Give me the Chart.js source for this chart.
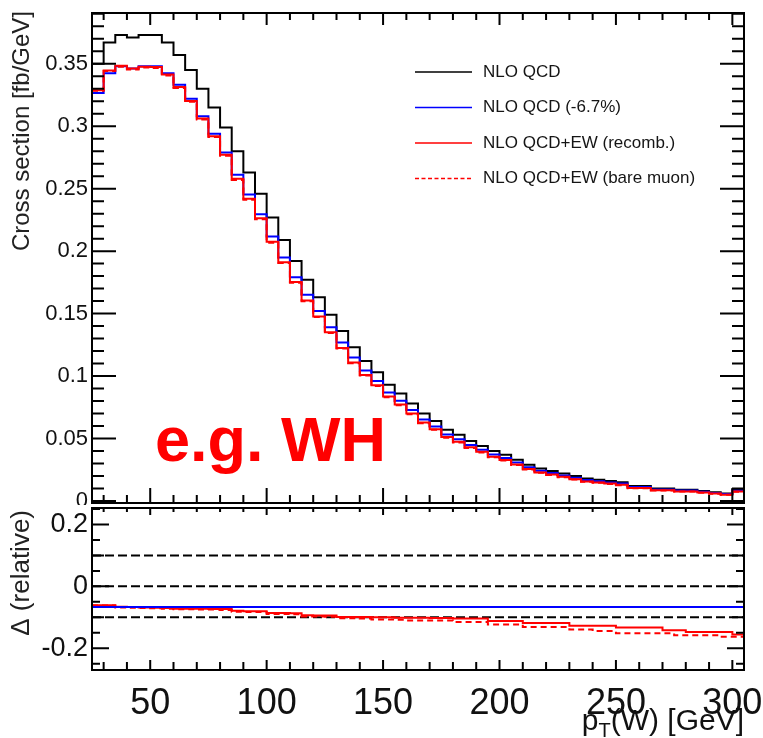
<!DOCTYPE html>
<html>
<head>
<meta charset="utf-8">
<script src="https://cdn.jsdelivr.net/npm/chart.js@4.4.0/dist/chart.umd.min.js"></script>
<style>
body { margin: 0; background: #fff; }
#wrap { position: relative; width: 763px; height: 738px; }
canvas { position: absolute; left: 0; }
#topChart { top: 0; }
#ratioChart { top: 505px; }
</style>
</head>
<body>
<div id="wrap">
<canvas id="topChart" width="763" height="505"></canvas>
<canvas id="ratioChart" width="763" height="233"></canvas>
</div>
<script>
// pT(W) bin edges [GeV], 5 GeV bins
var binEdges = [25, 30, 35, 40, 45, 50, 55, 60, 65, 70, 75, 80, 85, 90, 95, 100, 105, 110, 115, 120,
  125, 130, 135, 140, 145, 150, 155, 160, 165, 170, 175, 180, 185, 190, 195, 200, 205, 210, 215, 220,
  225, 230, 235, 240, 245, 250, 255, 260, 265, 270, 275, 280, 285, 290, 295, 300, 305];

// cross section per bin [fb/GeV]
var nloQCD = [0.350, 0.367, 0.373, 0.371, 0.373, 0.373, 0.367, 0.357, 0.345, 0.330, 0.315, 0.299, 0.280, 0.263,
  0.246, 0.227, 0.209, 0.192, 0.177, 0.163, 0.149, 0.136, 0.123, 0.112, 0.103, 0.093, 0.086, 0.078,
  0.070, 0.064, 0.057, 0.053, 0.048, 0.044, 0.040, 0.037, 0.033, 0.029, 0.026, 0.024, 0.022, 0.020,
  0.018, 0.017, 0.016, 0.015, 0.012, 0.012, 0.010, 0.010, 0.009, 0.009, 0.008, 0.007, 0.006, 0.009];

var nloQCDScaled = [0.3266, 0.3424, 0.3480, 0.3461, 0.3480, 0.3480, 0.3424, 0.3331, 0.3219, 0.3079, 0.2939, 0.2790,
  0.2612, 0.2454, 0.2295, 0.2118, 0.1950, 0.1791, 0.1651, 0.1521, 0.1390, 0.1269, 0.1148, 0.1045, 0.0961,
  0.0868, 0.0802, 0.0728, 0.0653, 0.0597, 0.0532, 0.0494, 0.0448, 0.0411, 0.0373, 0.0345, 0.0308, 0.0271,
  0.0243, 0.0224, 0.0205, 0.0187, 0.0168, 0.0159, 0.0149, 0.0140, 0.0112, 0.0112, 0.0093, 0.0093, 0.0084,
  0.0084, 0.0075, 0.0065, 0.0056, 0.0084];

var nloEWRecomb = [0.3287, 0.3446, 0.3484, 0.3461, 0.3476, 0.3473, 0.3413, 0.3313, 0.3202, 0.3062, 0.2920, 0.2772,
  0.2579, 0.2420, 0.2263, 0.2075, 0.1910, 0.1753, 0.1605, 0.1477, 0.1350, 0.1225, 0.1108, 0.1009, 0.0927,
  0.0837, 0.0773, 0.0701, 0.0629, 0.0575, 0.0512, 0.0475, 0.0430, 0.0394, 0.0355, 0.0329, 0.0293, 0.0256,
  0.0229, 0.0212, 0.0194, 0.0175, 0.0157, 0.0148, 0.0140, 0.0130, 0.0104, 0.0104, 0.0087, 0.0086, 0.0077,
  0.0077, 0.0068, 0.0060, 0.0051, 0.0076];

var nloEWBare = [0.3283, 0.3442, 0.3476, 0.3454, 0.3469, 0.3465, 0.3406, 0.3306, 0.3195, 0.3053, 0.2914, 0.2763,
  0.2570, 0.2412, 0.2256, 0.2068, 0.1904, 0.1747, 0.1598, 0.1472, 0.1344, 0.1220, 0.1103, 0.1004, 0.0920,
  0.0830, 0.0767, 0.0694, 0.0623, 0.0570, 0.0507, 0.0469, 0.0425, 0.0389, 0.0351, 0.0324, 0.0289, 0.0252,
  0.0226, 0.0209, 0.0191, 0.0172, 0.0155, 0.0146, 0.0137, 0.0127, 0.0102, 0.0102, 0.0085, 0.0085, 0.0076,
  0.0076, 0.0067, 0.0059, 0.0050, 0.0075];

// relative difference to NLO QCD
var deltaRecomb = [-0.061, -0.061, -0.066, -0.067, -0.068, -0.069, -0.070, -0.072, -0.072, -0.072, -0.073, -0.073,
  -0.079, -0.080, -0.080, -0.086, -0.086, -0.087, -0.093, -0.094, -0.094, -0.099, -0.099, -0.099, -0.100,
  -0.100, -0.101, -0.101, -0.101, -0.102, -0.102, -0.104, -0.104, -0.104, -0.112, -0.112, -0.112, -0.118,
  -0.118, -0.118, -0.118, -0.127, -0.127, -0.127, -0.127, -0.133, -0.133, -0.133, -0.133, -0.142, -0.142,
  -0.147, -0.147, -0.147, -0.147, -0.155];

var deltaBare = [-0.062, -0.062, -0.068, -0.069, -0.070, -0.071, -0.072, -0.074, -0.074, -0.075, -0.075, -0.076,
  -0.082, -0.083, -0.083, -0.089, -0.089, -0.090, -0.097, -0.097, -0.098, -0.103, -0.103, -0.104, -0.107,
  -0.107, -0.108, -0.110, -0.110, -0.110, -0.110, -0.115, -0.115, -0.115, -0.123, -0.123, -0.123, -0.131,
  -0.131, -0.131, -0.131, -0.139, -0.139, -0.144, -0.144, -0.151, -0.151, -0.151, -0.151, -0.151, -0.158,
  -0.158, -0.158, -0.158, -0.163, -0.163];

var deltaScaled = -0.067;
var ratioGuides = [0.1, 0, -0.1];

var xTickLabels = [50, 100, 150, 200, 250, 300];
var crossTicks = [0, 0.05, 0.1, 0.15, 0.2, 0.25, 0.3, 0.35];
var ratioTicks = [-0.2, 0, 0.2];

var FONT = "'Liberation Sans', Arial, Helvetica, sans-serif";

function stepPoints(values) {
  var pts = [];
  for (var i = 0; i < values.length; i++) pts.push({x: binEdges[i], y: values[i]});
  pts.push({x: binEdges[values.length], y: values[values.length - 1]});
  return pts;
}

function histSet(label, values, color, dash, order) {
  return {
    label: label, data: stepPoints(values), borderColor: color, borderWidth: 2,
    borderDash: dash || [], stepped: true, pointRadius: 0, fill: false, order: order
  };
}

function flatSet(label, level, color, width, dash, order) {
  return {
    label: label, data: [{x: binEdges[0], y: level}, {x: binEdges[binEdges.length - 1], y: level}],
    borderColor: color, borderWidth: width, borderDash: dash, pointRadius: 0, fill: false, order: order
  };
}

function frameAndXTicks(ctx, a, xs, bot, top) {
  ctx.strokeStyle = '#000';
  ctx.lineWidth = 2;
  ctx.strokeRect(a.left, a.top, a.right - a.left, a.bottom - a.top);
  ctx.beginPath();
  for (var g = 30; g <= 300; g += 10) {
    var px = xs.getPixelForValue(g), big = g % 50 === 0;
    ctx.moveTo(px, a.bottom); ctx.lineTo(px, a.bottom - (big ? bot[0] : bot[1]));
    ctx.moveTo(px, a.top); ctx.lineTo(px, a.top + (big ? top[0] : top[1]));
  }
}

var topDecor = {
  id: 'topDecor',
  afterDraw: function(chart) {
    var ctx = chart.ctx, a = chart.chartArea, xs = chart.scales.x, ys = chart.scales.y;
    ctx.save();
    frameAndXTicks(ctx, a, xs, [15, 8], [12, 7]);
    for (var k = 0; k <= 39; k++) {
      var py = ys.getPixelForValue(k / 100), len = k % 5 === 0 ? 24 : 12;
      ctx.moveTo(a.left, py); ctx.lineTo(a.left + len, py);
      ctx.moveTo(a.right, py); ctx.lineTo(a.right - len, py);
    }
    ctx.stroke();

    // legend
    ctx.font = '17px ' + FONT;
    ctx.textAlign = 'left';
    ctx.textBaseline = 'middle';
    chart.data.datasets.forEach(function(ds, i) {
      var ly = 72 + i * 35.5;
      ctx.strokeStyle = ds.borderColor;
      ctx.lineWidth = 1.5;
      ctx.setLineDash(ds.borderDash.length ? [4, 2.5] : []);
      ctx.beginPath(); ctx.moveTo(415, ly); ctx.lineTo(472, ly); ctx.stroke();
      ctx.setLineDash([]);
      ctx.fillStyle = '#151515';
      ctx.fillText(ds.label, 483, ly);
    });

    ctx.font = 'bold 63px ' + FONT;
    ctx.fillStyle = '#ff0000';
    ctx.textBaseline = 'alphabetic';
    ctx.fillText('e.g. WH', 155, 461);

    ctx.translate(22, a.top - 2);
    ctx.rotate(-Math.PI / 2);
    ctx.font = '24px ' + FONT;
    ctx.fillStyle = '#222';
    ctx.textAlign = 'right';
    ctx.textBaseline = 'middle';
    ctx.fillText('Cross section [fb/GeV]', 0, 0);
    ctx.restore();
  }
};

var ratioDecor = {
  id: 'ratioDecor',
  afterDraw: function(chart) {
    var ctx = chart.ctx, a = chart.chartArea, xs = chart.scales.x, ys = chart.scales.y;
    ctx.save();
    frameAndXTicks(ctx, a, xs, [10, 8], [7, 4]);
    for (var k = -5; k <= 5; k++) {
      var py = ys.getPixelForValue(k * 0.05);
      var len = k % 4 === 0 ? 17 : (k % 2 === 0 ? 12 : 8);
      ctx.moveTo(a.left, py); ctx.lineTo(a.left + len, py);
      ctx.moveTo(a.right, py); ctx.lineTo(a.right - len, py);
    }
    ctx.stroke();

    // x title p_T(W) [GeV]
    ctx.fillStyle = '#111';
    ctx.textAlign = 'left';
    ctx.textBaseline = 'alphabetic';
    ctx.font = '30px ' + FONT;
    var wTail = ctx.measureText('(W) [GeV]').width, wp = ctx.measureText('p').width;
    ctx.font = '20px ' + FONT;
    var wt = ctx.measureText('T').width;
    var x0 = a.right - wTail - wt - wp, base = 225;
    ctx.font = '30px ' + FONT;
    ctx.fillText('p', x0, base);
    ctx.fillText('(W) [GeV]', x0 + wp + wt, base);
    ctx.font = '20px ' + FONT;
    ctx.fillText('T', x0 + wp, base + 7);

    ctx.translate(22, a.top + 2);
    ctx.rotate(-Math.PI / 2);
    ctx.font = '26px ' + FONT;
    ctx.fillStyle = '#222';
    ctx.textAlign = 'right';
    ctx.textBaseline = 'middle';
    ctx.fillText('\u0394 (relative)', 0, 0);
    ctx.restore();
  }
};

var topChart = new Chart(document.getElementById('topChart'), {
  type: 'line',
  data: {
    datasets: [
      histSet('NLO QCD', nloQCD, '#000000', null, 3),
      histSet('NLO QCD (-6.7%)', nloQCDScaled, '#0000ff', null, 2),
      histSet('NLO QCD+EW (recomb.)', nloEWRecomb, '#ff0000', null, 0),
      histSet('NLO QCD+EW (bare muon)', nloEWBare, '#ff0000', [6, 4], 1)
    ]
  },
  options: {
    responsive: false, animation: false, devicePixelRatio: 1,
    layout: {padding: {top: 13, right: 19, bottom: 2, left: 0}},
    plugins: {legend: {display: false}, tooltip: {enabled: false}},
    scales: {
      x: {type: 'linear', min: 25, max: 305, display: false},
      y: {
        min: -0.0016, max: 0.3906,
        grid: {display: false, drawTicks: false}, border: {display: false},
        afterBuildTicks: function(s) { s.ticks = crossTicks.map(function(v) { return {value: v}; }); },
        afterFit: function(s) { s.width = 92; s.paddingTop = 0; s.paddingBottom = 0; },
        ticks: {
          padding: 4, color: '#111', font: {family: FONT, size: 22},
          callback: function(v) { return String(+v.toFixed(2)); }
        }
      }
    }
  },
  plugins: [topDecor]
});

var ratioChart = new Chart(document.getElementById('ratioChart'), {
  type: 'line',
  data: {
    datasets: [
      flatSet('+10%', ratioGuides[0], '#000000', 2, [9, 4], 5),
      flatSet('0', ratioGuides[1], '#000000', 2, [9, 4], 5),
      flatSet('-10%', ratioGuides[2], '#000000', 2, [9, 4], 5),
      histSet('NLO QCD+EW (bare muon)', deltaBare, '#ff0000', [6, 4], 2),
      histSet('NLO QCD+EW (recomb.)', deltaRecomb, '#ff0000', null, 1),
      flatSet('NLO QCD (-6.7%)', deltaScaled, '#0000ff', 2, [], 0)
    ]
  },
  options: {
    responsive: false, animation: false, devicePixelRatio: 1,
    layout: {padding: {top: 3, right: 19, bottom: 0, left: 0}},
    plugins: {legend: {display: false}, tooltip: {enabled: false}},
    scales: {
      x: {
        type: 'linear', min: 25, max: 305,
        grid: {display: false, drawTicks: false}, border: {display: false},
        afterBuildTicks: function(s) { s.ticks = xTickLabels.map(function(v) { return {value: v}; }); },
        afterFit: function(s) { s.height = 68; s.paddingLeft = 0; s.paddingRight = 0; },
        ticks: {
          padding: 12, autoSkip: false, maxRotation: 0, color: '#111',
          font: {family: FONT, size: 36},
          callback: function(v) { return String(v); }
        }
      },
      y: {
        min: -0.27, max: 0.253,
        grid: {display: false, drawTicks: false}, border: {display: false},
        afterBuildTicks: function(s) { s.ticks = ratioTicks.map(function(v) { return {value: v}; }); },
        afterFit: function(s) { s.width = 92; s.paddingTop = 0; s.paddingBottom = 0; },
        ticks: {
          padding: 4, color: '#111', font: {family: FONT, size: 27},
          callback: function(v) { return String(+v.toFixed(2)); }
        }
      }
    }
  },
  plugins: [ratioDecor]
});
</script>
</body>
</html>
